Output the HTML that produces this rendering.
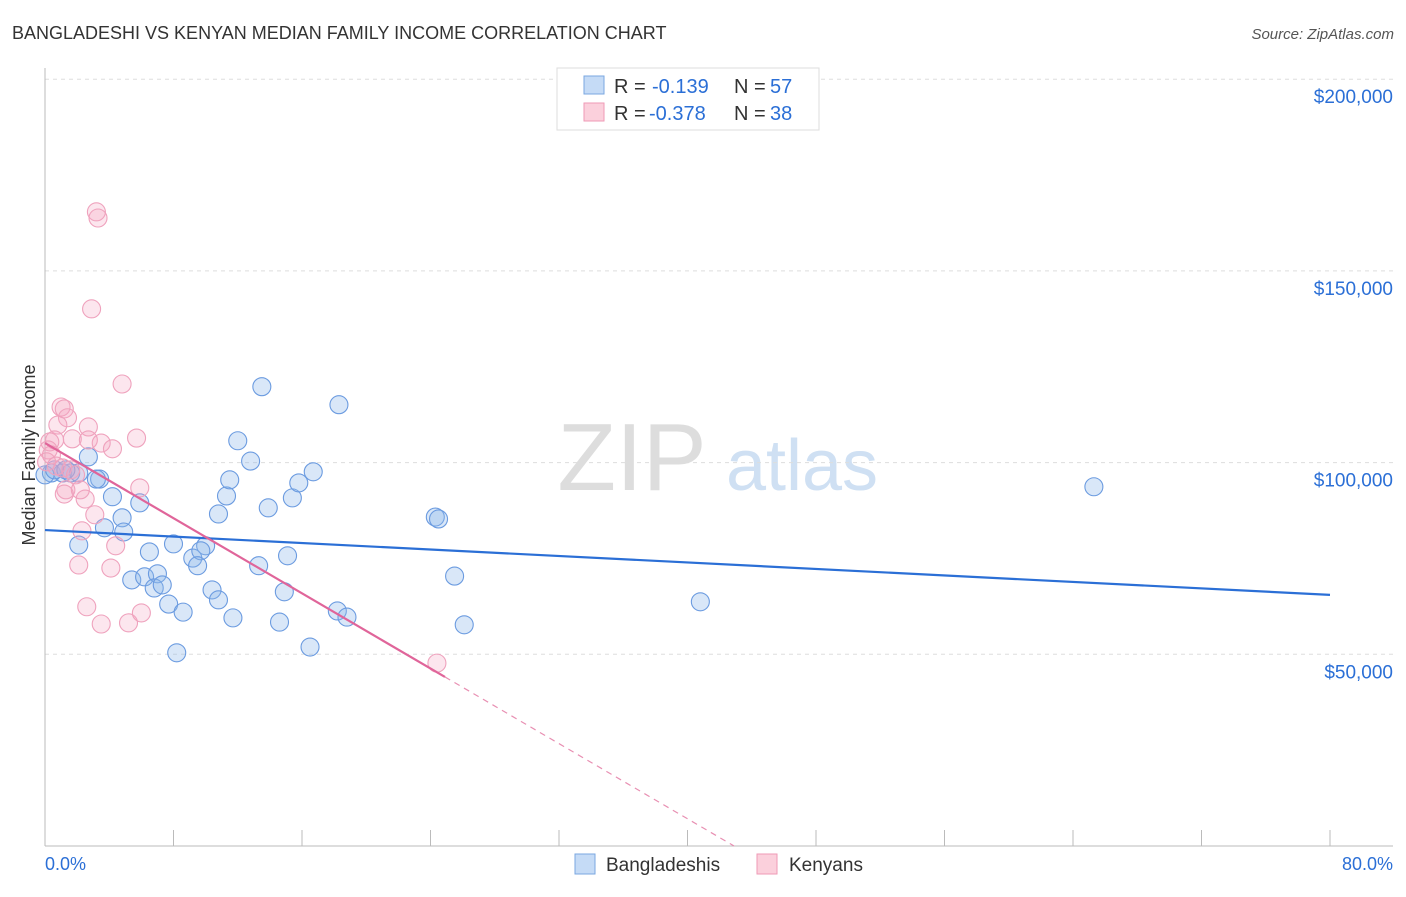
<!DOCTYPE html>
<html><head><meta charset="utf-8"><style>
body{margin:0;background:#fff;font-family:"Liberation Sans",sans-serif}
svg text{font-family:"Liberation Sans",sans-serif}
</style></head><body>
<svg id="c" width="1406" height="892">
<text x="12" y="39" font-size="18" fill="#333">BANGLADESHI VS KENYAN MEDIAN FAMILY INCOME CORRELATION CHART</text>
<text x="1394" y="39" font-size="15" fill="#555" text-anchor="end" font-style="italic">Source: ZipAtlas.com</text>
<text x="35" y="455" font-size="18" fill="#333" text-anchor="middle" transform="rotate(-90 35 455)">Median Family Income</text>
<g><text x="632" y="490" font-size="96" fill="#ddd" font-family="Liberation Serif" text-anchor="middle">ZIP</text><text x="802" y="490" font-size="72" fill="#cfe0f3" text-anchor="middle">atlas</text></g>
<g id="grid"></g><g id="ticks"></g><g id="pts"></g><g id="lines"></g>
<g>
<rect x="557" y="68" width="262" height="62" fill="#fff" stroke="#ddd"/>
<rect x="584" y="76" width="20" height="18" fill="#c5dbf6" stroke="#7aa7e0"/>
<rect x="584" y="103" width="20" height="18" fill="#fbd0dc" stroke="#ef9ab6"/>
<text x="614" y="93" font-size="20" fill="#333">R =</text><text x="652" y="93" font-size="20" fill="#2b6fd6">-0.139</text>
<text x="734" y="93" font-size="20" fill="#333">N =</text><text x="770" y="93" font-size="20" fill="#2b6fd6">57</text>
<text x="614" y="120" font-size="20" fill="#333">R =</text><text x="649" y="120" font-size="20" fill="#2b6fd6">-0.378</text>
<text x="734" y="120" font-size="20" fill="#333">N =</text><text x="770" y="120" font-size="20" fill="#2b6fd6">38</text>
</g>
<g>
<rect x="575" y="854" width="20" height="20" fill="#c5dbf6" stroke="#7aa7e0"/>
<text x="606" y="871" font-size="19" fill="#333">Bangladeshis</text>
<rect x="757" y="854" width="20" height="20" fill="#fbd0dc" stroke="#ef9ab6"/>
<text x="789" y="871" font-size="19" fill="#333">Kenyans</text>
</g>
<text x="45" y="870" font-size="18" fill="#2b6fd6">0.0%</text>
<text x="1393" y="870" font-size="18" fill="#2b6fd6" text-anchor="end">80.0%</text>
</svg>
<script>
const yTicks=[50,100,150,200];
const yTickLabels=["$50,000","$100,000","$150,000","$200,000"];
const xTicks=[0,8,16,24,32,40,48,56,64,72,80];
const blueX=[13.5,18.3,12.0,12.8,2.7,0.4,1.1,1.6,2.1,3.4,3.2,4.2,5.9,11.3,15.4,15.8,16.7,10.8,13.9,4.8,2.1,3.7,4.9,6.5,8.0,9.2,10.0,9.7,9.5,5.4,6.2,7.0,6.8,7.3,7.7,8.6,10.4,10.8,11.7,13.3,15.1,14.9,14.6,16.5,18.2,18.8,8.2,24.3,24.5,25.5,26.1,40.8,65.3,0.0,0.6,1.3,11.5];
const blueY=[119.8,115.1,105.7,100.4,101.5,97.3,97.3,97.3,97.3,95.7,95.7,91.1,89.5,91.3,90.8,94.7,97.6,86.6,88.2,85.6,78.5,83.0,81.9,76.7,78.8,75.1,78.3,77.0,73.1,69.4,70.2,71.0,67.3,68.1,63.1,61.0,66.8,64.2,59.5,73.1,75.7,66.3,58.4,51.9,61.3,59.7,50.4,85.8,85.3,70.4,57.7,63.7,93.7,96.8,98.1,98.1,95.5];
const pinkX=[3.2,3.3,2.9,4.8,5.7,1.0,1.2,1.4,0.8,0.6,0.3,1.7,2.7,2.7,3.5,4.2,0.2,0.4,0.1,0.7,1.1,1.6,1.9,1.3,1.2,2.5,2.2,5.9,3.1,2.3,4.4,2.1,4.1,2.6,3.5,5.2,6.0,24.4];
const pinkY=[165.4,163.8,140.1,120.5,106.4,114.5,114.0,111.7,109.8,105.9,105.4,106.2,109.3,105.9,105.1,103.6,103.3,102.0,100.2,99.1,98.6,98.1,96.8,92.9,91.8,90.5,92.9,93.4,86.4,82.2,78.3,73.3,72.5,62.4,57.9,58.2,60.8,47.7];
const blueLine=[82.4,65.5];
const pinkLine=[105.1,-2.45];
const pinkSolidEnd=24.9;
const NS="http://www.w3.org/2000/svg";
const X=v=>45+v*16.0625, Y=v=>846-v*3.834;
function mk(t,a,p){const e=document.createElementNS(NS,t);for(const k in a)e.setAttribute(k,a[k]);p.appendChild(e);return e;}
const grid=document.getElementById('grid'),ticks=document.getElementById('ticks'),pts=document.getElementById('pts'),lines=document.getElementById('lines');
const ax=mk('line',{x1:45,y1:68,x2:45,y2:846,stroke:'#bbb'},ticks);


const bx=mk('line',{x1:45,y1:846,x2:1393,y2:846,stroke:'#bbb'},ticks);


yTicks.forEach((v,i)=>{
 const g=mk('line',{x1:45,y1:Y(v),x2:1393,y2:Y(v),stroke:'#ddd','stroke-dasharray':'4,4'},grid);
 
 
 const t=mk('text',{x:1393,y:Y(v)+24,'font-size':19,fill:'#2b6fd6','text-anchor':'end'},grid);
 t.textContent=yTickLabels[i];
 
 
});
xTicks.forEach(v=>{
 const t=mk('line',{x1:X(v),y1:830,x2:X(v),y2:846,stroke:'#bbb'},ticks);
 
 
});
blueX.forEach((x,i)=>{
 const c=mk('circle',{cx:X(x),cy:Y(blueY[i]),r:9,fill:'rgba(140,182,235,0.33)',stroke:'#6b9be0','stroke-width':1.1},pts);
 
 
});
pinkX.forEach((x,i)=>{
 const c=mk('circle',{cx:X(x),cy:Y(pinkY[i]),r:9,fill:'rgba(245,165,195,0.28)',stroke:'#efa2bd','stroke-width':1.1},pts);
 
 
});
const bl=mk('line',{x1:X(0),y1:Y(blueLine[0]),x2:X(80),y2:Y(blueLine[1]),stroke:'#2b6fd6','stroke-width':2.2},lines);


const pl=mk('line',{x1:X(0),y1:Y(pinkLine[0]),x2:X(pinkSolidEnd),y2:Y(pinkLine[0]+pinkLine[1]*pinkSolidEnd),stroke:'#e0659a','stroke-width':2.2},lines);


const xz=-pinkLine[0]/pinkLine[1];
const pd=mk('line',{x1:X(pinkSolidEnd),y1:Y(pinkLine[0]+pinkLine[1]*pinkSolidEnd),x2:X(xz),y2:Y(0),stroke:'#e88fb2','stroke-width':1.2,'stroke-dasharray':'6,5'},lines);


</script>
</body></html>
